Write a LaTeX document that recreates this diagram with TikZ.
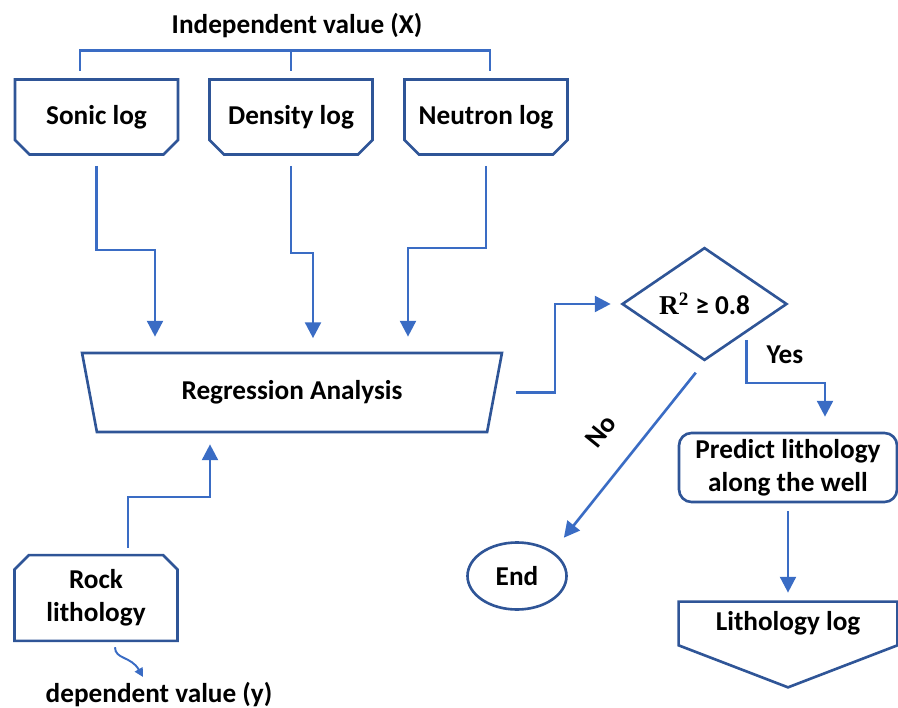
\documentclass[tikz,border=0pt]{standalone}
\usepackage{fontspec}
\setmainfont{Carlito}
\newfontfamily\rfont{Liberation Serif}
\usepackage{tikz}
\usetikzlibrary{shapes.geometric, shapes.misc, positioning, arrows.meta, calc}
\definecolor{BoxBlue}{RGB}{47,85,151}
\definecolor{FlowBlue}{RGB}{58,108,196}

\begin{document}
\begin{tikzpicture}[
          every node/.style={font=\fontsize{15.5}{19}\selectfont\bfseries},
          logbox/.style={chamfered rectangle,
                     chamfered rectangle corners={south west, south east},
                     chamfered rectangle xsep=0.12cm, chamfered rectangle ysep=0.17cm,
                     draw=BoxBlue, line width=1.5pt,
                     minimum width=3.26cm, minimum height=1.5cm, align=center},
          rockbox/.style={logbox,
                     chamfered rectangle corners={north west, north east},
                     minimum height=1.6cm},
          regbox/.style={trapezium, trapezium angle=76, shape border rotate=180,
                     trapezium stretches=true, draw=BoxBlue, line width=1.5pt,
                     minimum width=8.4cm, minimum height=1.58cm},
          testbox/.style={diamond, draw=BoxBlue, line width=1.5pt,
                     minimum width=3.3cm, minimum height=2.04cm, inner sep=0pt},
          roundbox/.style={rectangle, rounded corners=0.25cm, draw=BoxBlue,
                     line width=1.5pt, minimum width=4.36cm, minimum height=1.38cm,
                     align=center},
          endbox/.style={ellipse, draw=BoxBlue, line width=1.5pt,
                     minimum width=1.98cm, minimum height=1.34cm},
          outline/.style={draw=BoxBlue, line width=1.5pt, line join=miter},
          flow/.style={draw=FlowBlue, line width=1.5pt,
                     -{Triangle[width=9pt,length=9pt]}},
          bracket/.style={draw=FlowBlue, line width=1.5pt}
        ]
        \useasboundingbox (0,0) rectangle (17.96,14.14);

        % Input logs
        \node[logbox] (sonic)   at (1.93,11.8) {Sonic log};
        \node[logbox] (density) at (5.82,11.8) {Density log};
        \node[logbox] (neutron) at (9.72,11.8) {Neutron log};
        \node (indep) at (5.94,13.62) {Independent value (X)};

        % Bracket over the logs
        \draw[bracket] ([xshift=-0.33cm,yshift=0.15cm]sonic.north)
              |- ([xshift=0.08cm,yshift=0.55cm]neutron.north)
              -- ([xshift=0.08cm,yshift=0.15cm]neutron.north);
        \draw[bracket] ([yshift=0.15cm]density.north) -- ++(0,0.4);

        % Regression and test
        \node[regbox] (reg) at (5.84,6.29) {Regression Analysis};
        \node[testbox] (test) at (14.09,8.06)
              {{\rfont R\textsuperscript{2}} ≥ 0.8};

        \draw[flow, shorten <=0.2cm, shorten >=0.3cm]
              (sonic.south) |- (3.1,9.14) -- (3.1,0 |- reg.north);
        \draw[flow, shorten <=0.2cm, shorten >=0.27cm]
              (density.south) |- (6.26,9.08) -- (6.26,0 |- reg.north);
        \draw[flow, shorten <=0.2cm, shorten >=0.3cm]
              (neutron.south) |- (8.16,9.18) -- (8.16,0 |- reg.north);
        \draw[flow, shorten <=0.4cm, shorten >=0.2cm]
              (reg.east) -- (11.1,0 |- reg.east) |- (test.west);

        % Yes branch
        \node[roundbox] (predict) at (15.76,4.79) {Predict lithology\\along the well};
        \node[minimum width=4.36cm, minimum height=0.86cm] (lithlog) at (15.76,1.67)
              {Lithology log};
        \draw[outline] (lithlog.south west) |- (lithlog.north east)
              -- (lithlog.south east) -- ($(lithlog.south)+(0,-0.84)$) -- cycle;

        \draw[flow, shorten <=0.15cm, shorten >=0.3cm]
              (test.south east) |- (16.5,6.48) -- (16.5,0 |- predict.north);
        \node (yes) at (15.7,7.04) {Yes};
        \draw[flow, shorten <=0.16cm, shorten >=0.18cm]
              (predict.south) -- (lithlog.north);

        % No branch
        \node[endbox] (end) at (10.34,2.62) {End};
        \draw[flow, shorten <=0.28cm, shorten >=0.35cm]
              (test.south) -- (end.north east);
        \node[rotate=51, inner sep=1pt] (no) at (12.02,5.52) {No};

        % Dependent value
        \node[rockbox] (rock) at (1.92,2.18) {Rock\\lithology};
        \draw[flow, shorten <=0.12cm, shorten >=0.22cm]
              ([xshift=0.64cm]rock.north) |- (4.2,4.2) -- (4.2,0 |- reg.south);
        \coordinate (deptip) at (2.86,0.6);
        \draw[draw=FlowBlue, line width=1.1pt, -{Triangle[width=5pt,length=5pt]}]
              ([xshift=0.38cm,yshift=-0.1cm]rock.south)
              .. controls (2.3,0.95) and (2.62,1.02) .. (deptip);
        \node[anchor=base] (dep) at (3.18,0.1) {dependent value (y)};
      \end{tikzpicture}
\end{document}
